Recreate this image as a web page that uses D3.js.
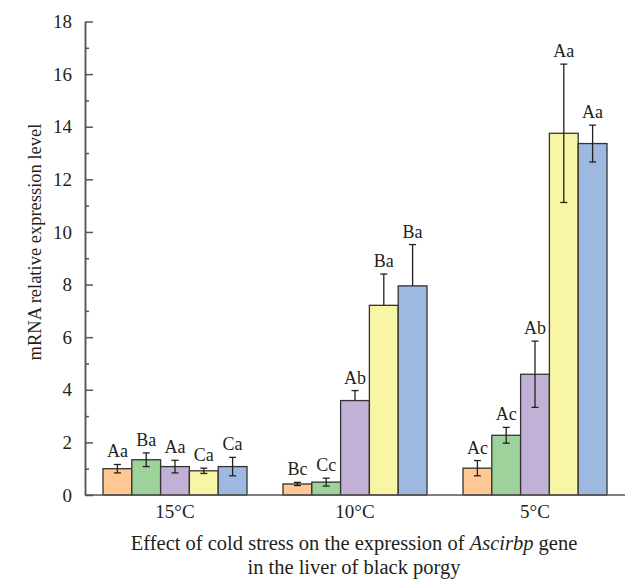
<!DOCTYPE html>
<html>
<head>
<meta charset="utf-8">
<script src="https://cdn.jsdelivr.net/npm/d3@7"></script>
<style>
  body { margin: 0; background: #fff; }
  text { font-family: "Liberation Serif", "DejaVu Serif", serif; fill: #231f20; }
</style>
</head>
<body>
<script>
// temperature groups and the five bars in each
var groups = ["15°C", "10°C", "5°C"]
var series = ["s1", "s2", "s3", "s4", "s5"]
var colors = ["#fdc893", "#9dd39b", "#c2b1d6", "#f8f5a4", "#9eb9e0"]

// mean values
var means = [
  [1.00, 1.34, 1.08, 0.92, 1.08],
  [0.42, 0.49, 3.59, 7.21, 7.95],
  [1.02, 2.27, 4.59, 13.75, 13.36]
]
// error (half length)
var errs = [
  [0.16, 0.26, 0.24, 0.10, 0.35],
  [0.06, 0.15, 0.38, 1.19, 1.57],
  [0.29, 0.30, 1.26, 2.63, 0.70]
]
// is the lower half of the error bar drawn
var lowerShown = [
  [1, 1, 1, 1, 1],
  [1, 1, 0, 0, 0],
  [1, 1, 1, 1, 1]
]
// significance letters
var letters = [
  ["Aa", "Ba", "Aa", "Ca", "Ca"],
  ["Bc", "Cc", "Ab", "Ba", "Ba"],
  ["Ac", "Ac", "Ab", "Aa", "Aa"]
]
var yMajor = [0, 2, 4, 6, 8, 10, 12, 14, 16, 18]
var yMinor = [1, 3, 5, 7, 9, 11, 13, 15, 17]

var W = 625, H = 584
var pLeft = 85, pRight = 625, pTop = 21.5, pBottom = 495

var svg = d3.select('body').append('svg')
    .attr('width', W)
    .attr('height', H)

var x = d3.scaleBand().domain(groups).range([pLeft, pRight])
    .paddingInner(0.2).paddingOuter(0.1)
var xs = d3.scaleBand().domain(series).range([0, x.bandwidth()])
var y = d3.scaleLinear().domain([0, 18]).range([pBottom, pTop])

// flatten into records
var data = []
groups.forEach(function (g, gi) {
  series.forEach(function (s, si) {
    data.push({g: g, s: s, si: si, v: means[gi][si], e: errs[gi][si],
               low: lowerShown[gi][si], lab: letters[gi][si]})
  })
})

// bars
svg.append('g').selectAll('rect')
    .data(data)
    .enter()
  .append('rect')
    .attr('x', function (d) { return x(d.g) + xs(d.s) })
    .attr('y', function (d) { return y(d.v) })
    .attr('width', xs.bandwidth())
    .attr('height', function (d) { return y(0) - y(d.v) })
    .attr('fill', function (d) { return colors[d.si] })
    .attr('stroke', '#333')
    .attr('stroke-width', 1.3)

// error bars
var eb = svg.append('g').attr('stroke', '#231f20').attr('stroke-width', 1.3)
data.forEach(function (d) {
  var cx = x(d.g) + xs(d.s) + xs.bandwidth() / 2
  var lo = d.low ? Math.max(d.v - d.e, 0) : d.v
  eb.append('line').attr('x1', cx).attr('x2', cx).attr('y1', y(lo)).attr('y2', y(d.v + d.e))
  if (d.low) {
    eb.append('line').attr('x1', cx - 3.5).attr('x2', cx + 3.5).attr('y1', y(lo)).attr('y2', y(lo))
  }
  eb.append('line').attr('x1', cx - 3.5).attr('x2', cx + 3.5).attr('y1', y(d.v + d.e)).attr('y2', y(d.v + d.e))
})

// letters above the bars
svg.append('g').selectAll('text')
    .data(data)
    .enter()
  .append('text')
    .attr('x', function (d) { return x(d.g) + xs(d.s) + xs.bandwidth() / 2 })
    .attr('y', function (d) { return y(d.v + d.e) - 7 })
    .attr('text-anchor', 'middle')
    .style('font-size', '18px')
    .text(function (d) { return d.lab })

// y axis, ticks point inward
var yAxis = d3.axisLeft(y).tickValues(yMajor).tickSizeInner(-8).tickSizeOuter(0).tickPadding(13)
var ya = svg.append('g')
    .attr('transform', 'translate(' + pLeft + ',0)')
    .call(yAxis)
ya.attr('font-family', null).attr('font-size', null)
ya.selectAll('text').style('font-size', '19px')
var yMinorAxis = d3.axisLeft(y).tickValues(yMinor).tickSizeInner(-4).tickSizeOuter(0).tickFormat('')
svg.append('g')
    .attr('transform', 'translate(' + pLeft + ',0)')
    .call(yMinorAxis)
svg.selectAll('.domain, .tick line').attr('stroke', '#555').attr('stroke-width', 1.5)

// x axis line
svg.append('line')
    .attr('x1', pLeft).attr('x2', pRight)
    .attr('y1', y(0)).attr('y2', y(0))
    .attr('stroke', '#555').attr('stroke-width', 1.5)

// x tick labels
svg.append('g').selectAll('text')
    .data(groups)
    .enter()
  .append('text')
    .attr('x', function (d) { return x(d) + x.bandwidth() / 2 })
    .attr('y', 518)
    .attr('text-anchor', 'middle')
    .style('font-size', '19px')
    .text(function (d) { return d })

// y label
svg.append('text')
    .attr('transform', 'translate(35,242) rotate(-90)')
    .attr('text-anchor', 'middle')
    .attr('dy', '0.35em')
    .style('font-size', '18.5px')
    .text('mRNA relative expression level')

// x title, two lines
var t1 = svg.append('text')
    .attr('x', 354)
    .attr('y', 550)
    .attr('text-anchor', 'middle')
    .style('font-size', '20.5px')
t1.append('tspan').text('Effect of cold stress on the expression of ')
t1.append('tspan').style('font-style', 'italic').text('Ascirbp')
t1.append('tspan').text(' gene')
svg.append('text')
    .attr('x', 354)
    .attr('y', 574)
    .attr('text-anchor', 'middle')
    .style('font-size', '20.5px')
    .text('in the liver of black porgy')
</script>
</body>
</html>
